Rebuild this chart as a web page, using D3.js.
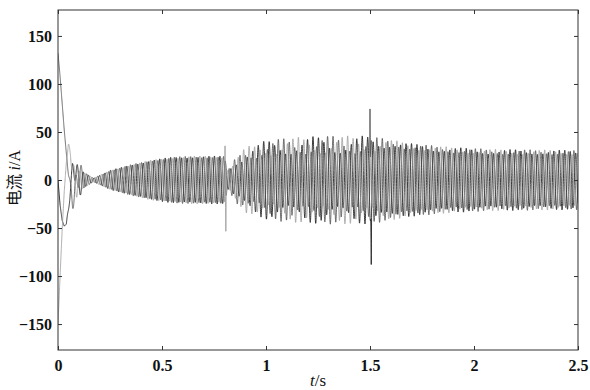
<!DOCTYPE html>
<html><head><meta charset="utf-8">
<script src="https://cdn.jsdelivr.net/npm/d3@7"></script>
<style>html,body{margin:0;padding:0;background:#fff;}svg{display:block;}</style>
</head><body><div id="chart"></div>
<script>
// ---- data ----
const xTicks = [0, 0.5, 1, 1.5, 2, 2.5];
const xTickLabels = ["0", "0.5", "1", "1.5", "2", "2.5"];
const yTicks = [-150, -100, -50, 0, 50, 100, 150];
const yTickLabels = ["\u2212150", "\u2212100", "\u221250", "0", "50", "100", "150"];

// start-up transient of the three phase currents (t in s, i in A)
const transientT = [0, 0.01, 0.02, 0.03, 0.04, 0.05, 0.06, 0.07, 0.08, 0.09, 0.10, 0.11, 0.12, 0.13];
const phaseAStart = [132, 108, 80, 52, 28, 8, -10, -20, -14, -4, 6, 6, 0, 0];
const phaseBStart = [0, -26, -42, -48, -46, -30, -8, 8, 14, 8, -4, -6, 0, 0];
const phaseCStart = [-150, -100, -52, -12, 18, 34, 30, 12, -2, -6, -2, 0, 0, 0];

// envelope of the fast oscillation (t in s, amplitude in A)
const envT   = [0.04, 0.08, 0.12, 0.17, 0.20, 0.25, 0.35, 0.45, 0.55, 0.65, 0.80, 0.815, 0.83, 0.86, 0.90, 1.00, 1.10, 1.30, 1.50, 1.60, 1.70, 1.90, 2.10, 2.50];
const envAmp = [0, 14, 9, 2, 5, 10, 16, 21, 24, 25, 25, 10, 14, 26, 34, 41, 44, 46, 46, 42, 38, 34, 32, 31];
// depth of the slow beat between phases
const beatT     = [0, 0.80, 0.86, 1.50, 1.60, 2.50];
const beatDepth = [0.06, 0.08, 0.40, 0.40, 0.18, 0.15];
const carrierHz = 38;
const beatHz = 4.2;

// switching spikes: time, phase index, peak value
const spikeT   = [0.803, 0.807, 1.500, 1.506];
const spikePh  = [2, 2, 0, 1];
const spikeVal = [40, -58, 74, -88];

// ---- build ----
const W = 590, H = 390;
const m = {l: 58, r: 12, t: 10, b: 40};
const x = d3.scaleLinear().domain([0, 2.5]).range([m.l, W - m.r]);
const y = d3.scaleLinear().domain([-177, 177]).range([H - m.b, m.t]);

const svg = d3.select("#chart").append("svg").attr("width", W).attr("height", H)
  .style("background", "#fff");

const lerp = (ts, vs) => d3.scaleLinear().domain(ts).range(vs).clamp(true);
const trs = [lerp(transientT, phaseAStart), lerp(transientT, phaseBStart), lerp(transientT, phaseCStart)];
const env = lerp(envT, envAmp);
const beat = lerp(beatT, beatDepth);

const dt = 0.0004;
const times = d3.range(0, 2.5 + dt / 2, dt);
const series = [0, 1, 2].map(k => times.map(t => {
  let v = t <= 0.13 ? trs[k](t) : 0;
  const e = t < 0.04 ? 0 : env(t);
  const bd = beat(t);
  const a = e * (1 - bd * (0.5 + 0.5 * Math.cos(2 * Math.PI * beatHz * t + k * 2 * Math.PI / 3)));
  v += a * Math.sin(2 * Math.PI * carrierHz * t - k * 2 * Math.PI / 3);
  spikeT.forEach((st, i) => {
    if (spikePh[i] === k) {
      const w = 0.0025;
      const d = Math.abs(t - st);
      if (d < w) v += (spikeVal[i] - v) * (1 - d / w);
    }
  });
  return [t, v];
}));

svg.append("defs").append("clipPath").attr("id", "clip")
  .append("rect").attr("x", m.l).attr("y", m.t).attr("width", W - m.l - m.r).attr("height", H - m.t - m.b);

const line = d3.line().x(d => x(d[0])).y(d => y(d[1]));
const colors = ["#4a4a4a", "#222", "#9a9a9a"];
const widths = [0.8, 0.9, 0.8];
const g = svg.append("g").attr("clip-path", "url(#clip)");
[1, 0, 2].forEach(k => {
  g.append("path").datum(series[k]).attr("d", line)
    .attr("fill", "none").attr("stroke", colors[k]).attr("stroke-width", widths[k]);
});

// axes box
const axisColor = "#333";
svg.append("rect").attr("x", m.l).attr("y", m.t).attr("width", W - m.l - m.r).attr("height", H - m.t - m.b)
  .attr("fill", "none").attr("stroke", axisColor).attr("stroke-width", 1);

const font = "'Liberation Serif', 'Times New Roman', serif";
const xb = svg.append("g").attr("transform", `translate(0,${H - m.b})`)
  .call(d3.axisBottom(x).tickValues(xTicks).tickFormat((d, i) => xTickLabels[i]).tickSizeInner(-4).tickSizeOuter(0).tickPadding(10));
const xt = svg.append("g").attr("transform", `translate(0,${m.t})`)
  .call(d3.axisTop(x).tickValues(xTicks).tickFormat("").tickSizeInner(-4).tickSizeOuter(0));
const yl = svg.append("g").attr("transform", `translate(${m.l},0)`)
  .call(d3.axisLeft(y).tickValues(yTicks).tickFormat((d, i) => yTickLabels[i]).tickSizeInner(-4).tickSizeOuter(0).tickPadding(6));
const yr = svg.append("g").attr("transform", `translate(${W - m.r},0)`)
  .call(d3.axisRight(y).tickValues(yTicks).tickFormat("").tickSizeInner(-4).tickSizeOuter(0));
[xb, xt, yl, yr].forEach(a => {
  a.select(".domain").remove();
  a.selectAll("line").attr("stroke", axisColor);
  a.selectAll("text").attr("fill", "#111").style("font-family", font).style("font-size", "16px").style("font-weight", "bold");
});

// axis titles
const xl = svg.append("text").attr("x", (m.l + W - m.r) / 2).attr("y", 386).attr("text-anchor", "middle")
  .style("font-family", font).style("font-size", "17px").attr("fill", "#111");
xl.append("tspan").style("font-style", "italic").text("t");
xl.append("tspan").text("/s");

const ylab = svg.append("text").attr("transform", "translate(20,178) rotate(-90)").attr("text-anchor", "middle")
  .style("font-size", "16px").attr("fill", "#111");
ylab.append("tspan").style("font-family", "'Noto Sans CJK SC', sans-serif").text("电流 ");
ylab.append("tspan").style("font-family", font).style("font-style", "italic").text("i");
ylab.append("tspan").style("font-family", font).text("/A");
</script>
</body></html>
